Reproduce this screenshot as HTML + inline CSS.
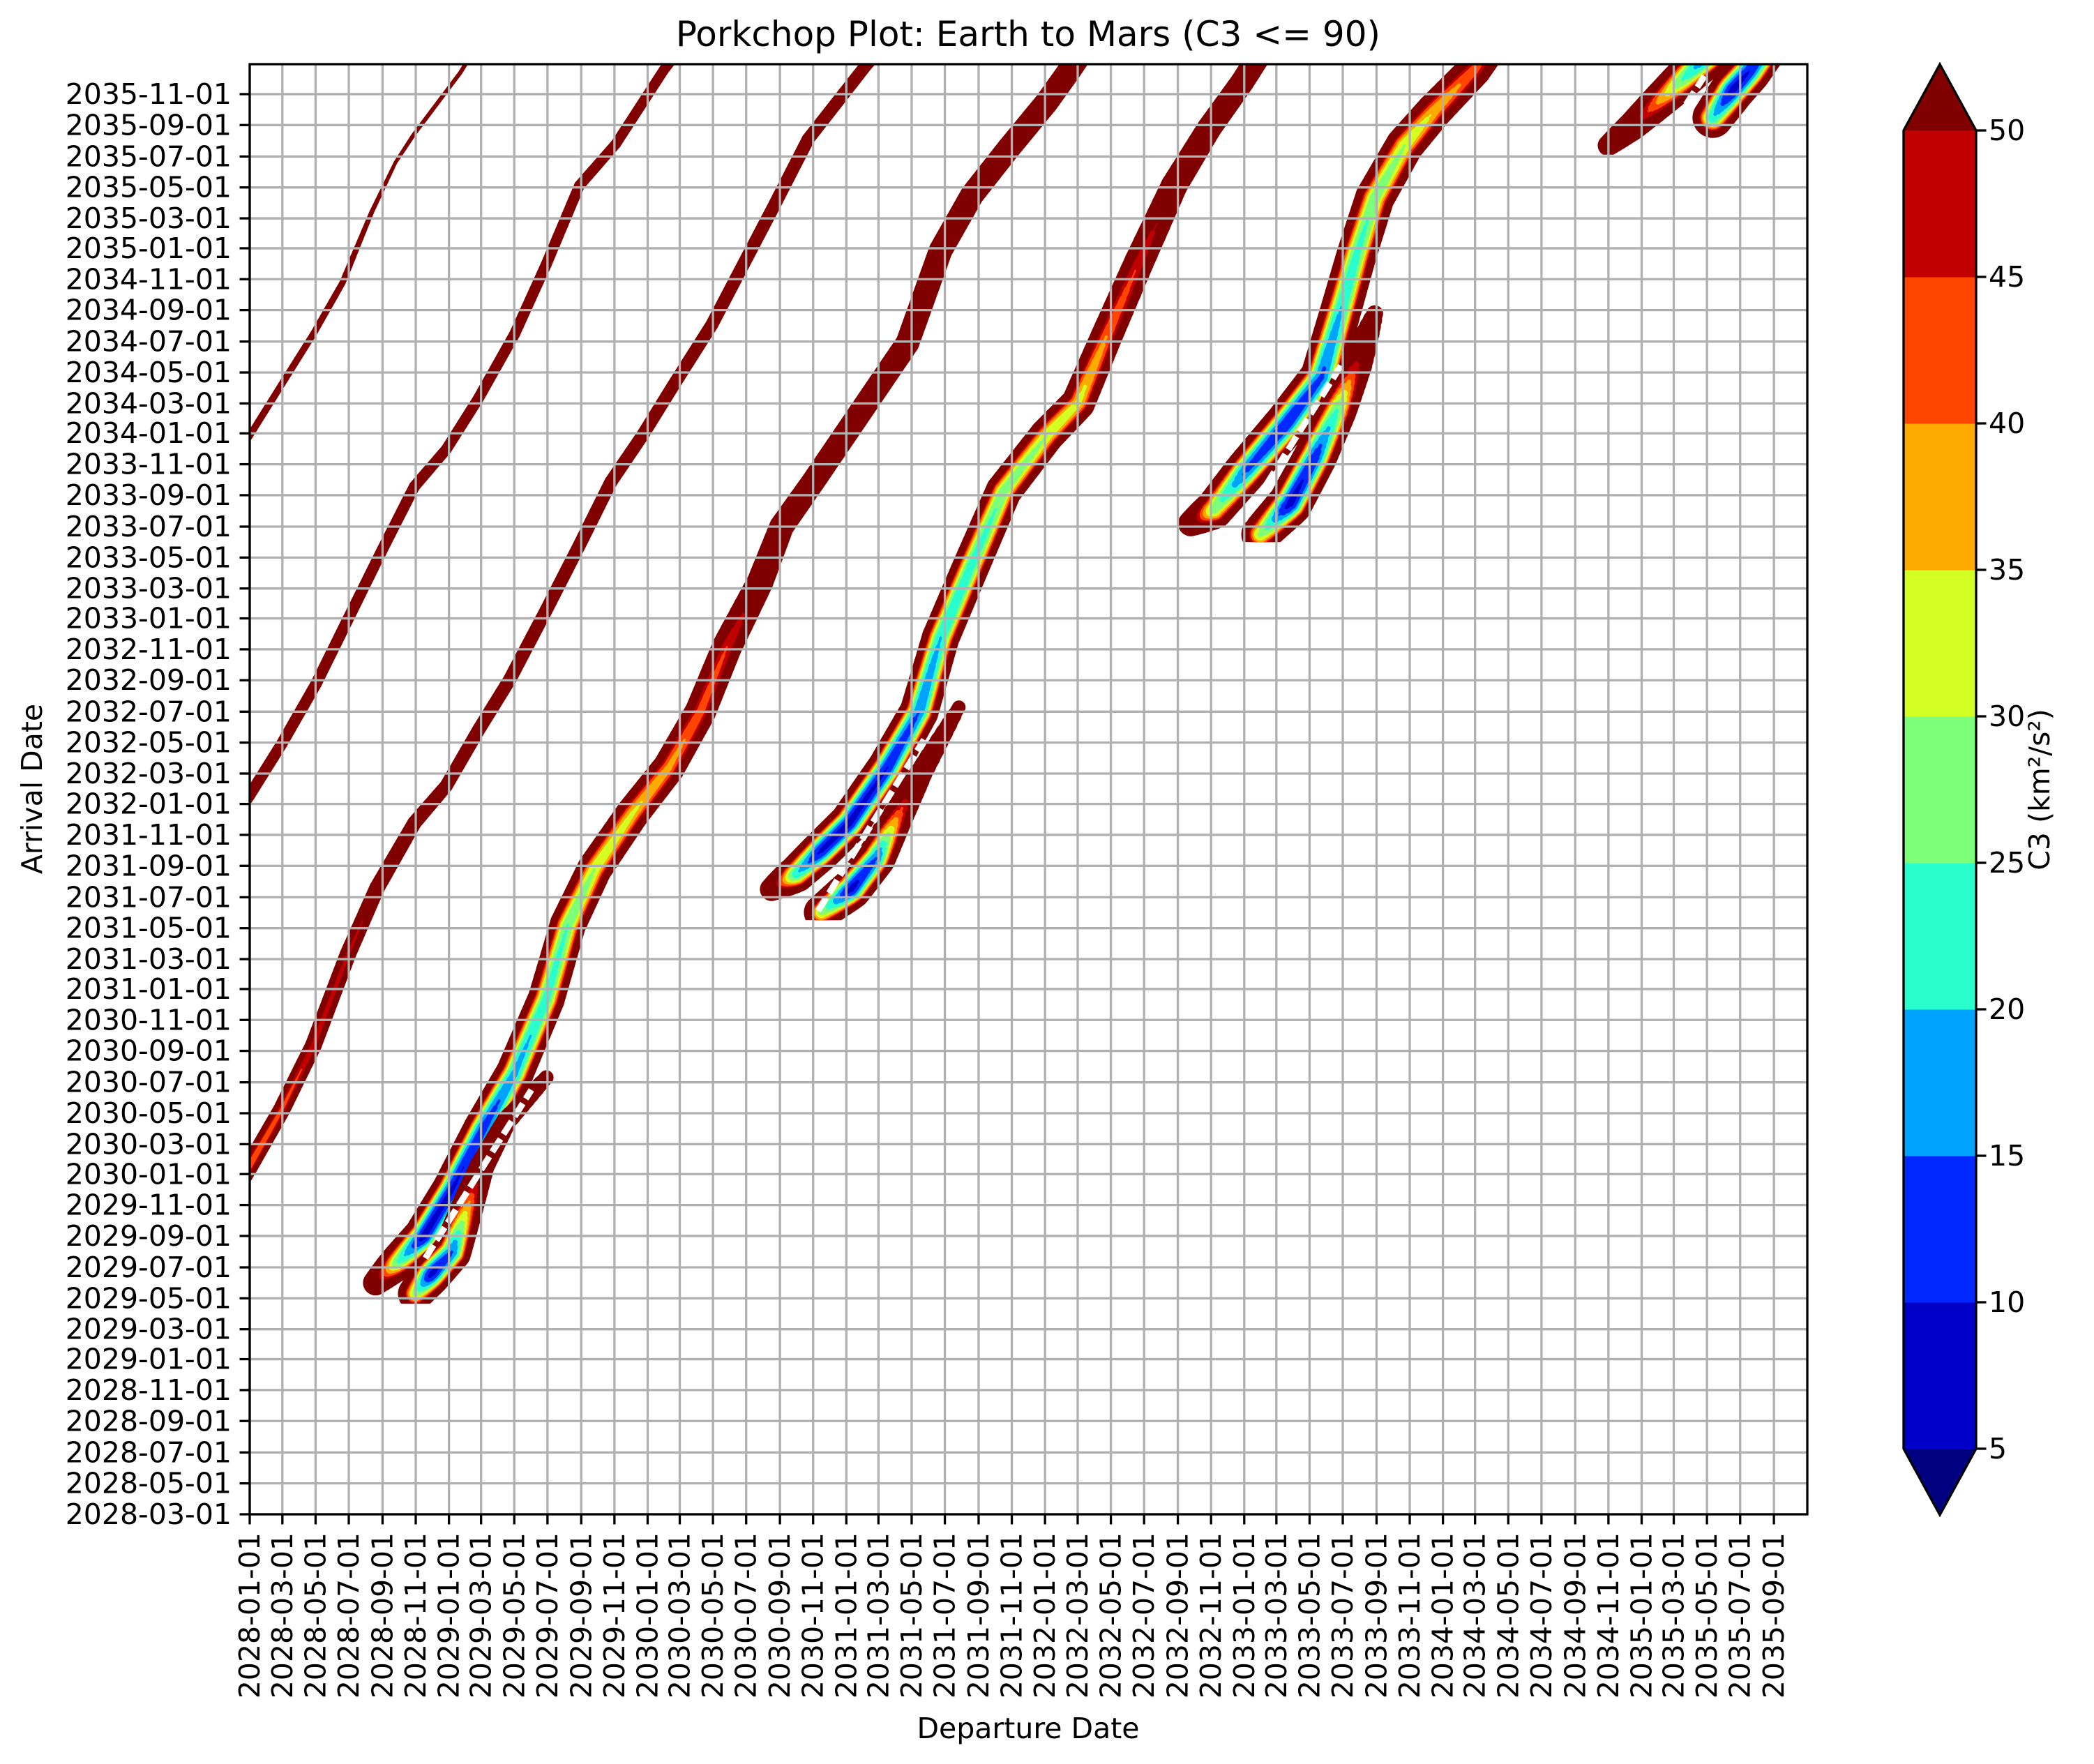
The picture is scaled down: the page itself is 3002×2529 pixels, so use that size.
<!DOCTYPE html>
<html><head><meta charset="utf-8"><title>Porkchop Plot</title>
<style>
html,body{margin:0;padding:0;background:#fff;}
svg{display:block;font-family:"DejaVu Sans","Liberation Sans",sans-serif;}
</style></head>
<body>
<svg id="chart" xmlns="http://www.w3.org/2000/svg" width="3002" height="2529" viewBox="0 0 3002 2529">
<defs>
<clipPath id="plotclip"><rect x="358" y="92" width="2233" height="2079"/></clipPath>
</defs>
<rect x="0" y="0" width="3002" height="2529" fill="#fff"/>
<text x="1474" y="66" font-size="50" text-anchor="middle">Porkchop Plot: Earth to Mars (C3 &lt;= 90)</text>
<g id="contours" clip-path="url(#plotclip)"></g>
<g id="grid"></g>
<rect x="358" y="92" width="2233" height="2079" fill="none" stroke="#000" stroke-width="3.3"/>
<g id="xticks"></g>
<g id="yticks"></g>
<text x="1474" y="2492" font-size="41" text-anchor="middle">Departure Date</text>
<text transform="translate(60,1131) rotate(-90)" font-size="41" text-anchor="middle">Arrival Date</text>
<g id="colorbar"></g>
<text transform="translate(2938,1132) rotate(-90)" font-size="41" text-anchor="middle">C3 (km²/s²)</text>
</svg>
<script>
// ---- data: ridge centerlines (departure month index from 2028-01, arrival month index from 2028-03, min C3) ----
const ridgeA_dep = [-1.5, 0, 1.92, 3.85, 5.6, 7.37, 8.8, 9.9, 12.7, 13.5];
const ridgeA_arr = [67.5, 69.9, 73.2, 76.5, 79.8, 84.4, 87.6, 89.4, 93.4, 94.8];
const ridgeA_c3  = [78, 79, 79, 80, 81, 85, 87, 86, 86, 86];

const ridgeB_dep = [-2, 0, 1.92, 4.0, 5.93, 8.0, 9.94, 11.86, 13.8, 16.0, 17.9, 19.9, 22.1, 25.0, 26];
const ridgeB_arr = [43.5, 46.6, 49.9, 53.8, 58.0, 62.5, 66.6, 69.0, 72.3, 76.5, 81.0, 86.1, 88.8, 93.6, 95];
const ridgeB_c3  = [67, 67, 67, 67, 67, 68, 68, 69, 69, 69, 69, 70, 71, 71, 71];

const ridgeC_dep = [-2, 0, 1.92, 3.85, 5.93, 7.69, 9.94, 11.86, 13.8, 15.7, 17.9, 19.9, 21.8, 23.7, 25.6, 27.9, 29.8, 31.7, 33.7, 37.2, 38.5];
const ridgeC_arr = [19.0, 22.6, 26.2, 30.4, 36.3, 40.6, 44.8, 47.2, 50.8, 54.1, 58.6, 62.8, 66.9, 69.9, 73.2, 77.1, 81.0, 84.9, 89.1, 93.9, 95.5];
const ridgeC_c3  = [38, 40, 43, 46, 48, 52, 58, 62, 62, 62, 63, 63, 63, 64, 64, 64, 64, 64, 64, 65, 65];

const ridgeD_dep = [7.6, 9.0, 10.5, 12.2, 14.1, 16.0, 17.9, 19.2, 20.8, 23.1, 25.3, 27.2, 28.8, 30.8, 32.1, 34.0, 35.9, 37.8, 39.7, 41.7, 43.6, 45.8, 48.1, 49.5, 51];
const ridgeD_arr = [15.0, 16.4, 18.0, 21.0, 25.0, 28.6, 33.4, 38.2, 41.8, 45.4, 48.4, 52.0, 56.2, 60.4, 64.0, 66.9, 69.9, 72.9, 75.9, 81.9, 85.5, 88.5, 91.5, 93.6, 96];
const ridgeD_c3  = [60, 25, 8, 9, 12, 18, 22, 25, 30, 34, 38, 42, 45, 55, 60, 62, 62, 62, 62, 62, 62, 62, 62, 62, 62];

const ridgeD2_dep = [10.0, 11.0, 12.2, 13.0, 14.0, 15.5, 17.9];
const ridgeD2_arr = [14.3, 15.6, 17.0, 19.5, 22.5, 25.5, 28.3];
const ridgeD2_c3  = [30, 8, 15, 35, 60, 70, 80];

const ridgeE_dep = [31.5, 33.0, 34.5, 36.2, 38.5, 40.4, 41.7, 43.6, 45.5, 48.1, 50.0, 51.7, 53.7, 55.8, 57.9, 59.9, 61.5];
const ridgeE_arr = [40.5, 41.5, 43.0, 44.8, 48.4, 52.0, 56.8, 61.6, 66.3, 69.9, 72.0, 76.3, 81.2, 86.1, 89.8, 92.8, 95.5];
const ridgeE_c3  = [65, 22, 9, 8, 10, 15, 20, 22, 26, 30, 33, 40, 46, 55, 60, 62, 62];

const ridgeE2_dep = [34.5, 36.3, 37.8, 39.0, 40.5, 42.8];
const ridgeE2_arr = [39.0, 40.5, 42.5, 45.0, 48.0, 52.3];
const ridgeE2_c3  = [30, 8, 15, 40, 65, 82];

const ridgeF_dep = [56.8, 58.2, 60.2, 62.6, 64.7, 65.9, 66.8, 67.9, 69.7, 71.5, 73.9, 75.5];
const ridgeF_arr = [64.2, 65.1, 67.7, 70.7, 73.7, 78.2, 81.6, 85.3, 88.7, 90.95, 93.6, 96];
const ridgeF_c3  = [65, 28, 14, 10, 14, 20, 23, 26, 30, 36, 42, 45];

const ridgeF2_dep = [61.0, 62.8, 64.3, 65.6, 66.8, 67.9];
const ridgeF2_arr = [63.5, 65.5, 68.5, 71.5, 74.5, 77.8];
const ridgeF2_c3  = [30, 8, 12, 25, 50, 80];

const ridgeG_dep = [82.0, 83.5, 85.0, 86.5, 88.0, 89.5];
const ridgeG_arr = [88.7, 90.0, 91.5, 93.0, 94.5, 96];
const ridgeG_c3  = [72, 55, 40, 25, 15, 10];

const ridgeG2_dep = [88.3, 89.5, 90.5, 91.5];
const ridgeG2_arr = [90.5, 92.3, 93.5, 95];
const ridgeG2_c3  = [22, 8, 10, 14];

// white separator lines between branches (dep, arr)
const gapD_dep = [10.6, 17.0]; const gapD_arr = [16.6, 27.5];
const gapE_dep = [34.3, 40.7]; const gapE_arr = [39.1, 50.2];
const gapF_dep = [60.0, 65.9]; const gapF_arr = [64.4, 74.5];
const gapG_dep = [86.0, 87.8]; const gapG_arr = [90.2, 93.2];

const contourLevels = [90, 50, 45, 40, 35, 30, 25, 20, 15, 10];
const levelColors = ['#800000', '#c00000', '#ff4500', '#ffaa00', '#d4ff23', '#7dff7a', '#29ffce', '#00a4ff', '#0028ff', '#0000c8'];
const cbarTicks = [5, 10, 15, 20, 25, 30, 35, 40, 45, 50];
const cbarColors = ['#0000c8', '#0028ff', '#00a4ff', '#29ffce', '#7dff7a', '#d4ff23', '#ffaa00', '#ff4500', '#c00000'];

// ---- axes ----
const NS = 'http://www.w3.org/2000/svg';
const PL = 358, PR = 2591, PT = 92, PB = 2171;
const XPD = 0.7804, YPD = 0.7269;
const X0 = Date.UTC(2028, 0, 1), Y0 = Date.UTC(2028, 2, 1);
function xDays(d) { return PL + d * XPD; }
function yDays(d) { return PB - d * YPD; }
function xMonth(m) { return xDays(m * 30.4375); }
function yMonth(n) { return yDays(n * 30.4375); }
function mk(tag, attrs, parent) {
  const e = document.createElementNS(NS, tag);
  for (const k in attrs) e.setAttribute(k, attrs[k]);
  parent.appendChild(e); return e;
}
function pad(v) { return (v < 10 ? '0' : '') + v; }

// ---- contours ----
const cg = document.getElementById('contours');
const ridges = [
  {dep: ridgeA_dep, arr: ridgeA_arr, c3: ridgeA_c3, k: 3.0, minArr: -99},
  {dep: ridgeB_dep, arr: ridgeB_arr, c3: ridgeB_c3, k: 3.4, minArr: -99},
  {dep: ridgeC_dep, arr: ridgeC_arr, c3: ridgeC_c3, k: 3.6, minArr: -99},
  {dep: ridgeD_dep, arr: ridgeD_arr, c3: ridgeD_c3, k: 6.4, minArr: 13.65},
  {dep: ridgeD2_dep, arr: ridgeD2_arr, c3: ridgeD2_c3, k: 6.4, minArr: 13.65},
  {dep: ridgeE_dep, arr: ridgeE_arr, c3: ridgeE_c3, k: 6.4, minArr: 38.5},
  {dep: ridgeE2_dep, arr: ridgeE2_arr, c3: ridgeE2_c3, k: 6.4, minArr: 38.5},
  {dep: ridgeF_dep, arr: ridgeF_arr, c3: ridgeF_c3, k: 7.0, minArr: 63.0},
  {dep: ridgeF2_dep, arr: ridgeF2_arr, c3: ridgeF2_c3, k: 7.0, minArr: 63.0},
  {dep: ridgeG_dep, arr: ridgeG_arr, c3: ridgeG_c3, k: 7.0, minArr: 88.1},
  {dep: ridgeG2_dep, arr: ridgeG2_arr, c3: ridgeG2_c3, k: 7.0, minArr: 88.1}
];
const defs = document.querySelector('defs');
ridges.forEach((r, ri) => {
  const cp = mk('clipPath', {id: 'rc' + ri}, defs);
  const yb = Math.min(PB, yMonth(r.minArr));
  mk('rect', {x: 0, y: 0, width: 3002, height: yb}, cp);
  r.group = mk('g', {'clip-path': 'url(#rc' + ri + ')'}, cg);
  
  
});
contourLevels.forEach((L, li) => {
  ridges.forEach(r => {
    const steps = 8;
    for (let i = 0; i < r.dep.length - 1; i++) {
      for (let s = 0; s < steps; s++) {
        const t0 = s / steps, t1 = (s + 1) / steps, tm = (t0 + t1) / 2;
        const c = r.c3[i] + (r.c3[i + 1] - r.c3[i]) * tm;
        if (c >= L) continue;
        const w = r.k * Math.sqrt(L - c);
        const x1 = xMonth(r.dep[i] + (r.dep[i + 1] - r.dep[i]) * t0);
        const y1 = yMonth(r.arr[i] + (r.arr[i + 1] - r.arr[i]) * t0);
        const x2 = xMonth(r.dep[i] + (r.dep[i + 1] - r.dep[i]) * t1);
        const y2 = yMonth(r.arr[i] + (r.arr[i + 1] - r.arr[i]) * t1);
        const ln = mk('line', {x1: x1, y1: y1, x2: x2, y2: y2, stroke: levelColors[li], 'stroke-width': w.toFixed(1), 'stroke-linecap': 'round'}, r.group);
        
        
      }
    }
  });
});
[[gapD_dep, gapD_arr], [gapE_dep, gapE_arr], [gapF_dep, gapF_arr], [gapG_dep, gapG_arr]].forEach(g => {
  const ln = mk('line', {x1: xMonth(g[0][0]), y1: yMonth(g[1][0]), x2: xMonth(g[0][1]), y2: yMonth(g[1][1]), stroke: '#fff', 'stroke-width': 9, 'stroke-dasharray': '22 8'}, cg);
  
  
});

// ---- grid & ticks ----
const grid = document.getElementById('grid');
const xt = document.getElementById('xticks');
const yt = document.getElementById('yticks');
for (let i = 0; i < 47; i++) {
  const yr = 2028 + Math.floor(i * 2 / 12), mo = (i * 2) % 12 + 1;
  const d = (Date.UTC(yr, mo - 1, 1) - X0) / 864e5;
  const x = xDays(d);
  const gl = mk('line', {x1: x, y1: PT, x2: x, y2: PB, stroke: '#b0b0b0', 'stroke-width': 3.3}, grid);
  
  
  mk('line', {x1: x, y1: PB, x2: x, y2: PB + 14.5, stroke: '#000', 'stroke-width': 3.3}, xt);
  const tx = mk('text', {transform: 'translate(' + x + ',' + (PB + 26) + ') rotate(-90)', 'font-size': 41, 'text-anchor': 'end', 'dominant-baseline': 'central'}, xt);
  tx.textContent = yr + '-' + pad(mo) + '-01';
  
  
}
for (let i = 0; i < 47; i++) {
  const tot = 2 + i * 2;
  const yr = 2028 + Math.floor(tot / 12), mo = tot % 12 + 1;
  const d = (Date.UTC(yr, mo - 1, 1) - Y0) / 864e5;
  const y = yDays(d);
  const gl = mk('line', {x1: PL, y1: y, x2: PR, y2: y, stroke: '#b0b0b0', 'stroke-width': 3.3}, grid);
  
  
  mk('line', {x1: PL - 14.5, y1: y, x2: PL, y2: y, stroke: '#000', 'stroke-width': 3.3}, yt);
  const tx = mk('text', {x: PL - 26, y: y, 'font-size': 41, 'text-anchor': 'end', 'dominant-baseline': 'central'}, yt);
  tx.textContent = yr + '-' + pad(mo) + '-01';
  
  
}

// ---- colorbar ----
const cb = document.getElementById('colorbar');
const CL = 2729, CR = 2833, CT = 187, CB = 2077;
function yCb(v) { return CB - (v - cbarTicks[0]) / (cbarTicks[cbarTicks.length - 1] - cbarTicks[0]) * (CB - CT); }
const cmid = (CL + CR) / 2;
const tu = mk('polygon', {points: CL + ',' + CT + ' ' + cmid + ',92 ' + CR + ',' + CT, fill: '#800000'}, cb);


const td = mk('polygon', {points: CL + ',' + CB + ' ' + cmid + ',2172 ' + CR + ',' + CB, fill: '#000080'}, cb);


cbarColors.forEach((c, i) => {
  const y1 = yCb(cbarTicks[i + 1]), y2 = yCb(cbarTicks[i]);
  const r = mk('rect', {x: CL, y: y1, width: CR - CL, height: y2 - y1 + 0.5, fill: c}, cb);
  
  
});
mk('polygon', {points: CL + ',' + CT + ' ' + cmid + ',92 ' + CR + ',' + CT + ' ' + CR + ',' + CB + ' ' + cmid + ',2172 ' + CL + ',' + CB, fill: 'none', stroke: '#000', 'stroke-width': 3.3}, cb);
cbarTicks.forEach(v => {
  const y = yCb(v);
  mk('line', {x1: CR, y1: y, x2: CR + 14.5, y2: y, stroke: '#000', 'stroke-width': 3.3}, cb);
  const t = mk('text', {x: CR + 18, y: y, 'font-size': 41, 'dominant-baseline': 'central'}, cb);
  t.textContent = v;
  
  
});
</script>
</body></html>
